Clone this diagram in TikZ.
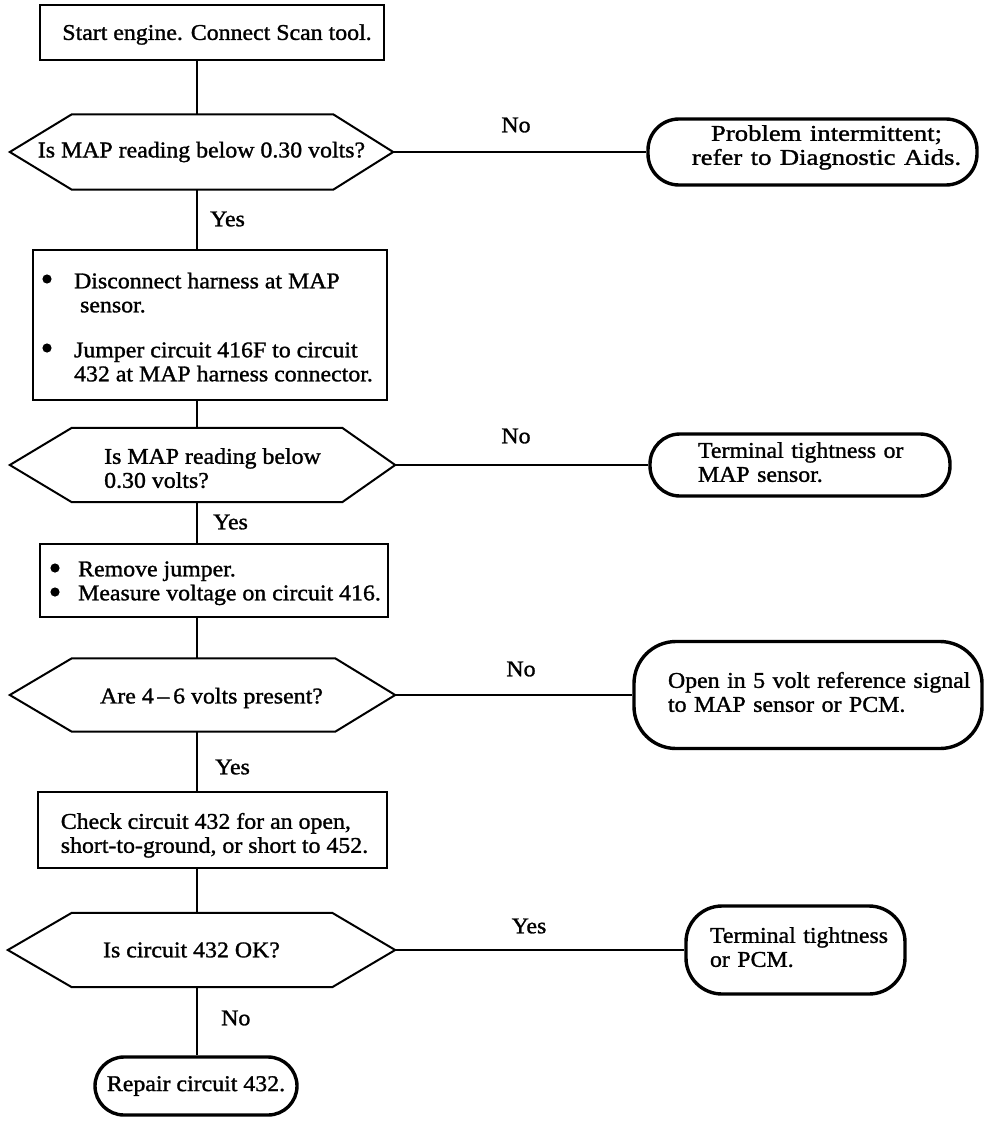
\documentclass[tikz,border=0pt]{standalone}
\usepackage{fontspec}
\setmainfont{Liberation Serif}[FakeStretch=1.06,FakeBold=1.3]
\usetikzlibrary{calc}
\newcommand\fs{\fontsize{22.5}{24}\selectfont}
\newcommand\bulgap{\hspace*{13pt}}
% shift node content: #1 = twice the x shift, #2 = lift (negative = down)
\newcommand\mv[3]{\raisebox{#2}[\height][\depth]{\hspace*{#1}#3}}
\begin{document}
\begin{tikzpicture}[x=1pt,y=-1pt,
  every node/.style={font=\fs},
  box/.style={draw, line width=2pt, inner sep=0pt, align=center},
  hexn/.style={inner sep=0pt, align=center},
  hexline/.style={line width=2pt, line join=miter},
  term/.style={draw, line width=3.4pt, inner ysep=0pt},
  conn/.style={line width=1.6pt},
  bulletdot/.style={fill=black},
  lbl/.style={inner sep=0pt}]
\useasboundingbox (0,0) rectangle (1008,1124);
\coordinate (sp) at (197,0);

% left column
\node[box, minimum width=344pt, minimum height=55pt] (b1) at (212,32.5)
  {\mv{10pt}{-2pt}{Start engine. Connect Scan tool.}};

\node[hexn, minimum width=383pt, minimum height=75pt] (q1) at (201.5,152) {Is MAP reading below 0.30 volts?};
\draw[hexline] (q1.west) -- ($(q1.north west)+(62,0)$) -- ($(q1.north east)+(-60,0)$) -- (q1.east)
  -- ($(q1.south east)+(-60,0)$) -- ($(q1.south west)+(62,0)$) -- cycle;

\node[box, minimum width=354pt, minimum height=150pt] (b2) at (210,325)
  {\mv{0pt}{-5pt}{\begin{tabular}{@{}l@{\hspace{14pt}}l@{}}
   \bulgap & Disconnect harness at MAP\\
        & \hspace{6pt}sensor.\\[21pt]
   \bulgap & Jumper circuit 416F to circuit\\
        & 432 at MAP harness connector.
   \end{tabular}}};
\fill[bulletdot] ($(b2.north west)+(15,30)$) circle (4.6);
\fill[bulletdot] ($(b2.north west)+(15,99)$) circle (4.6);

\node[hexn, minimum width=385pt, minimum height=74pt] (q2) at (202.5,465)
  {\mv{20pt}{-6pt}{\begin{tabular}{@{}l@{}}Is MAP reading below\\0.30 volts?\end{tabular}}};
\draw[hexline] (q2.west) -- ($(q2.north west)+(62,0)$) -- ($(q2.north east)+(-53,0)$) -- (q2.east)
  -- ($(q2.south east)+(-53,0)$) -- ($(q2.south west)+(62,0)$) -- cycle;

\node[box, minimum width=348pt, minimum height=73pt] (b3) at (214,580.5)
  {\mv{4pt}{-3pt}{\begin{tabular}{@{}l@{\hspace{14pt}}l@{}}
   \bulgap & Remove jumper.\\
   \bulgap & Measure voltage on circuit 416.
   \end{tabular}}};
\fill[bulletdot] ($(b3.north west)+(16,25)$) circle (4.6);
\fill[bulletdot] ($(b3.north west)+(16,49)$) circle (4.6);

\node[hexn, minimum width=385pt, minimum height=73pt] (q3) at (202.5,695)
  {\mv{18pt}{-3pt}{Are 4\,--\,6 volts present?}};
\draw[hexline] (q3.west) -- ($(q3.north west)+(62,0)$) -- ($(q3.north east)+(-60,0)$) -- (q3.east)
  -- ($(q3.south east)+(-60,0)$) -- ($(q3.south west)+(62,0)$) -- cycle;

\node[box, minimum width=349pt, minimum height=76pt] (b4) at (212.5,830)
  {\mv{4pt}{-6pt}{\begin{tabular}{@{}l@{}}Check circuit 432 for an open,\\short-to-ground, or short to 452.\end{tabular}}};

\node[hexn, minimum width=387pt, minimum height=74pt] (q4) at (201.5,950)
  {\mv{-20pt}{0pt}{Is circuit 432 OK?}};
\draw[hexline] (q4.west) -- ($(q4.north west)+(64,0)$) -- ($(q4.north east)+(-63,0)$) -- (q4.east)
  -- ($(q4.south east)+(-63,0)$) -- ($(q4.south west)+(64,0)$) -- cycle;

\node[term, rounded corners=29pt, minimum width=202pt, minimum height=58pt, inner xsep=0pt] (t5) at (196,1086)
  {Repair circuit 432.};

% right column terminals
\node[term, rounded corners=31pt, minimum height=66pt, inner xsep=14.5pt, text width=300pt, align=center] (t1) at (812.5,152)
  {\mv{28pt}{4pt}{\scalebox{1.12}[1]{\begin{tabular}{@{}c@{}}Problem intermittent;\\refer to Diagnostic Aids.\end{tabular}}}};
\node[term, rounded corners=30pt, minimum height=62pt, inner xsep=48pt, text width=204pt, align=left] (t2) at (800,465)
  {\begin{tabular}{@{}l@{}}Terminal tightness or\\MAP sensor.\end{tabular}};
\node[term, rounded corners=42pt, minimum height=107pt, inner xsep=34pt, text width=280pt, align=left] (t3) at (808,695)
  {\begin{tabular}{@{}l@{}}Open in 5 volt reference signal\\to MAP sensor or PCM.\end{tabular}};
\node[term, rounded corners=36pt, minimum height=88pt, inner xsep=24pt, text width=171pt, align=left] (t4) at (795.5,950)
  {\begin{tabular}{@{}l@{}}Terminal tightness\\or PCM.\end{tabular}};

% connectors
\draw[conn] (b1.south -| sp) -- (q1.north -| sp);
\draw[conn] (q1.south -| sp) -- (b2.north -| sp);
\draw[conn] (b2.south -| sp) -- (q2.north -| sp);
\draw[conn] (q2.south -| sp) -- (b3.north -| sp);
\draw[conn] (b3.south -| sp) -- (q3.north -| sp);
\draw[conn] (q3.south -| sp) -- (b4.north -| sp);
\draw[conn] (b4.south -| sp) -- (q4.north -| sp);
\draw[conn] (q4.south -| sp) -- (t5.north -| sp);
\draw[conn] (q1.east) -- (t1.west);
\draw[conn] (q2.east) -- (t2.west);
\draw[conn] (q3.east) -- (t3.west);
\draw[conn] (q4.east) -- (t4.west);

% labels
\node[lbl, anchor=west] (y1) at (210,219) {Yes};
\node[lbl, anchor=west] (y2) at (213,522) {Yes};
\node[lbl, anchor=west] (y3) at (215,767) {Yes};
\node[lbl, anchor=west] (n4) at (221,1018) {No};
\node[lbl] (n1) at (516,125) {No};
\node[lbl] (n2) at (516,436) {No};
\node[lbl] (n3) at (521,669) {No};
\node[lbl] (y4) at (529,926) {Yes};
\end{tikzpicture}
\end{document}
